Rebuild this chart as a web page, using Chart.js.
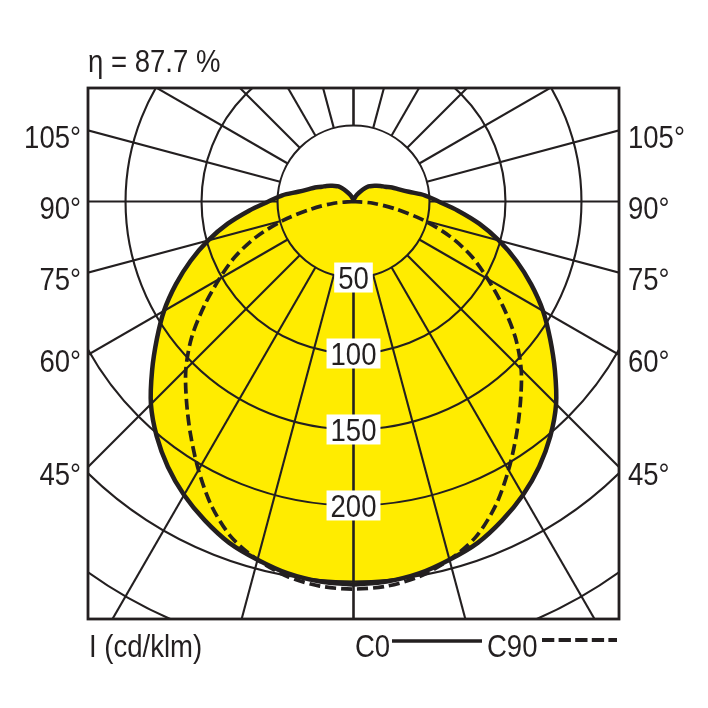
<!DOCTYPE html>
<html>
<head>
<meta charset="utf-8">
<script src="https://cdn.jsdelivr.net/npm/chart.js@4.4.1/dist/chart.umd.min.js"></script>
<style>
  html, body { margin: 0; padding: 0; background: #fff; }
  canvas { display: block; }
</style>
</head>
<body>
<canvas id="ldc" width="708" height="708"></canvas>
<script>
// luminous intensity in cd/klm (0 deg = straight down)
const c0Angles = [0, 5, 10, 15, 20, 25, 30, 35, 40, 45, 50, 55, 60, 65, 70, 75, 80, 85, 90,
  95, 100, 105, 110, 115, 120, 125, 130, 135, 140, 145, 150, 155, 160, 165, 170, 175, 180];
const c0Values = [252, 251, 248.5, 244, 239, 231.5, 223, 213, 201.5, 188.5, 173, 158, 144, 129, 114, 99, 84, 69, 56,
  47, 37, 31, 27, 23, 20.5, 18, 16, 14, 11, 8, 6, 4.5, 3, 2, 1.5, 1, 1];

const c90Angles = [0, 5, 10, 15, 20, 25, 30, 35, 40, 45, 50, 55, 60, 65, 70, 75, 80, 85, 90];
const c90Values = [255, 254, 250.5, 244, 235, 221, 204, 187, 171, 156, 139, 120, 102, 86, 68, 48, 28, 13, 0];

const ringValues = [50, 100, 150, 200, 250, 300, 350];
const ringLabels = [50, 100, 150, 200];
const spokeAngles = [0, 15, 30, 45, 60, 75, 90, 105, 120, 135, 150, 165, 180];
const angleLabels = [45, 60, 75, 90, 105];
const titleText = 'η = 87.7 %';
const unitText = 'I (cd/klm)';
const seriesNames = ['C0', 'C90'];

const INK = '#231f20';
const YELLOW = '#ffec00';
const FONT = '32px "Liberation Sans", Arial, sans-serif';
const SQUEEZE = 0.86; // the original type is a condensed grotesque

const rad = d => d * Math.PI / 180;

// angle from nadir + intensity -> plane coords in cd; side -1 is the left half
function toXY(a, r, side) {
  return { x: side * r * Math.sin(rad(a)), y: -r * Math.cos(rad(a)) };
}

// left half from nadir upward, then right half back down
const c0Left = c0Angles.map((a, i) => toXY(a, c0Values[i], -1));
const c0Right = c0Angles.slice(0, -1).map((a, i) => toXY(a, c0Values[i], 1)).reverse();
const c0Points = c0Left.concat(c0Right);

const c90Left = c90Angles.map((a, i) => toXY(a, c90Values[i], -1)).reverse();
const c90Right = c90Angles.slice(1).map((a, i) => toXY(a, c90Values[i + 1], 1));
const c90Points = c90Left.concat(c90Right);

function text(ctx, str, x, y, align) {
  ctx.save();
  ctx.translate(x, y);
  ctx.scale(SQUEEZE, 1);
  ctx.textAlign = align || 'left';
  ctx.fillText(str, 0, 0);
  ctx.restore();
}

const polarGrid = {
  id: 'polarGrid',
  beforeDatasetsDraw(chart) {
    const { ctx, chartArea: ca, scales: { x, y } } = chart;
    const cx = x.getPixelForValue(0), cy = y.getPixelForValue(0);
    const unit = x.getPixelForValue(1) - cx;
    ctx.save();
    ctx.beginPath();
    ctx.rect(ca.left, ca.top, ca.right - ca.left, ca.bottom - ca.top);
    ctx.clip();
    ctx.strokeStyle = INK;
    ctx.lineWidth = 2.1;
    ringValues.forEach(v => {
      ctx.beginPath();
      ctx.arc(cx, cy, v * unit, 0, Math.PI * 2);
      ctx.stroke();
    });
    spokeAngles.forEach(a => {
      [-1, 1].forEach(side => {
        const p0 = toXY(a, ringValues[0], side), p1 = toXY(a, 800, side);
        ctx.beginPath();
        ctx.moveTo(x.getPixelForValue(p0.x), y.getPixelForValue(p0.y));
        ctx.lineTo(x.getPixelForValue(p1.x), y.getPixelForValue(p1.y));
        ctx.stroke();
      });
    });
    ctx.restore();
  },
  afterDatasetsDraw(chart) {
    const { ctx, chartArea: ca, scales: { x, y } } = chart;
    const cx = x.getPixelForValue(0);
    ctx.save();
    ctx.strokeStyle = INK;
    ctx.lineWidth = 2.8;
    ctx.strokeRect(ca.left, ca.top, ca.right - ca.left, ca.bottom - ca.top);

    ctx.font = FONT;
    ctx.fillStyle = INK;
    ctx.textBaseline = 'alphabetic';

    // ring values on the nadir line
    ringLabels.forEach(v => {
      const py = y.getPixelForValue(-v);
      const w = ctx.measureText(String(v)).width * SQUEEZE + 8;
      ctx.fillStyle = '#fff';
      ctx.fillRect(cx - w / 2, py - 15, w, 30);
      ctx.fillStyle = INK;
      text(ctx, String(v), cx, py + 11.5, 'center');
    });

    // angle labels where spokes meet the frame
    const xMin = x.min;
    angleLabels.forEach(a => {
      const t = -xMin / Math.sin(rad(a));
      const py = y.getPixelForValue(-t * Math.cos(rad(a)));
      text(ctx, a + '°', ca.left - 7, py + 17.5, 'right');
      text(ctx, a + '°', ca.right + 9, py + 17.5, 'left');
    });

    text(ctx, titleText, 88, 72);
    text(ctx, unitText, 89, 657);
    text(ctx, seriesNames[0], 355, 657);
    text(ctx, seriesNames[1], 487, 657);

    ctx.lineWidth = 3.5;
    ctx.beginPath();
    ctx.moveTo(392, 641);
    ctx.lineTo(482, 641);
    ctx.stroke();
    ctx.lineWidth = 4;
    ctx.setLineDash([12.3, 4.3]);
    ctx.beginPath();
    ctx.moveTo(542, 640);
    ctx.lineTo(617, 640);
    ctx.stroke();
    ctx.restore();
  }
};

new Chart(document.getElementById('ldc'), {
  type: 'scatter',
  data: {
    datasets: [{
      label: seriesNames[0],
      data: c0Points,
      showLine: true,
      fill: 'shape',
      backgroundColor: YELLOW,
      borderColor: INK,
      borderWidth: 4.5,
      pointRadius: 0,
      tension: 0.3,
      order: 2
    }, {
      label: seriesNames[1],
      data: c90Points,
      showLine: true,
      fill: false,
      borderColor: INK,
      borderWidth: 3.7,
      borderDash: [11, 5],
      pointRadius: 0,
      tension: 0.3,
      order: 1
    }]
  },
  options: {
    responsive: false,
    animation: false,
    layout: { padding: { left: 88, top: 88, right: 89, bottom: 89 } },
    scales: {
      x: { type: 'linear', min: -174.7, max: 174.7, display: false },
      y: { type: 'linear', min: -274.7, max: 74.7, display: false }
    },
    plugins: {
      legend: { display: false },
      tooltip: { enabled: false },
      filler: { drawTime: 'beforeDraw' }
    }
  },
  plugins: [polarGrid]
});
</script>
</body>
</html>
